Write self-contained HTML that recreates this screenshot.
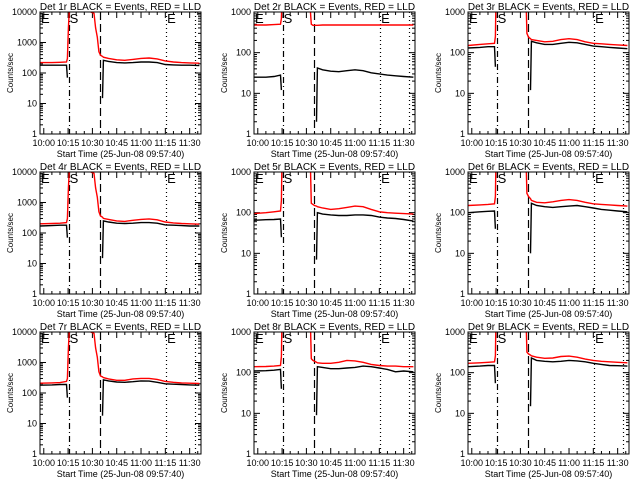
<!DOCTYPE html>
<html><head><meta charset="utf-8"><style>
html,body{margin:0;padding:0;background:#fff;}
svg{display:block;font-family:"Liberation Sans",sans-serif;}
</style></head><body>
<svg id="chart" width="640" height="480" viewBox="0 0 640 480"></svg>
<script>
const times=[-2.3,5,10,14,14.6,15.2,16,31,32,33,34,35,36.2,36.8,40,45,50,55,60,65,70,75,80,85,90,96];
const detNames=["1r","2r","3r","4r","5r","6r","7r","8r","9r"];
const decades=[4,3,3,4,3,3,4,3,3];
const N=null;
const black1=[180,180,180,180,70,N,N,N,N,N,N,N,15,260,240,220,215,220,230,230,220,190,185,180,180,175];
const red1=[220,220,225,230,300,3000,2e4,9000,3000,1500,500,380,350,330,300,270,260,280,300,310,290,250,230,220,215,210];
const black2=[25,25,26,28,12,N,N,N,N,N,N,N,2,42,38,35,34,36,38,36,32,30,28,27,26,25];
const red2=[480,480,490,500,700,5000,1e4,1e4,2000,500,470,470,470,470,480,480,480,480,480,480,480,480,480,480,480,480];
const black3=[130,135,140,140,45,N,N,N,N,N,N,N,12,190,175,160,160,170,180,175,160,145,140,135,130,125];
const red3=[150,160,165,170,250,1e4,1e4,1e4,1e4,1e4,300,240,220,210,200,185,190,210,220,210,185,170,165,160,155,150];
const black4=[170,175,180,180,70,N,N,N,N,N,N,N,15,250,230,210,205,210,220,220,210,185,180,175,170,170];
const red4=[200,205,210,220,300,3000,2e4,9000,3000,1500,500,360,330,300,280,250,240,260,280,290,270,230,215,205,200,195];
const black5=[65,67,68,70,25,N,N,N,N,N,N,N,7,100,92,88,85,85,88,88,85,78,74,72,68,62];
const red5=[95,100,105,110,200,1e4,1e4,1e4,1e4,170,160,150,145,140,130,120,125,135,145,140,120,105,100,97,95,92];
const black6=[100,105,108,110,40,N,N,N,N,N,N,N,10,170,150,140,135,140,145,150,140,130,120,115,110,105];
const red6=[150,155,160,165,250,1e4,1e4,1e4,1e4,1e4,300,250,220,200,180,175,185,200,210,200,180,165,160,155,150,145];
const black7=[180,185,190,190,70,N,N,N,N,N,N,N,18,270,250,230,225,235,250,245,225,200,195,190,185,180];
const red7=[210,215,220,240,300,3000,2e4,9000,3000,1500,500,360,340,320,290,260,260,290,300,300,280,240,225,215,210,205];
const black8=[110,112,115,120,40,N,N,N,N,N,N,N,9,140,135,125,125,130,135,145,140,130,120,105,110,105];
const red8=[140,142,145,150,250,1e4,1e4,1e4,1e4,220,200,190,180,175,170,170,180,200,195,180,160,150,145,145,140,140];
const black9=[140,145,150,150,55,N,N,N,N,N,N,N,15,230,200,190,185,190,200,195,185,170,160,150,148,145];
const red9=[170,175,180,185,260,1e4,1e4,1e4,1e4,1e4,320,290,270,260,240,225,230,250,255,240,215,200,190,185,180,175];
const blackSeries=[black1,black2,black3,black4,black5,black6,black7,black8,black9];
const redSeries=[red1,red2,red3,red4,red5,red6,red7,red8,red9];
const tickMinutes=[0,15,30,45,60,75,90];
const tickLabels=["10:00","10:15","10:30","10:45","11:00","11:15","11:30"];
const markerTimes=[15.3,34.5,75.5,93];

const NS="http://www.w3.org/2000/svg";
const svg=document.getElementById("chart");
const colLeft=[40,254,468], rowTop=[12,172,332], W=161, PH=122, T0=-2.33, T1=97;
function mk(tag,attrs,parent){const e=document.createElementNS(NS,tag);for(const k in attrs)e.setAttribute(k,attrs[k]);(parent||svg).appendChild(e);return e;}

for(let p=0;p<9;p++){
  const L=colLeft[p%3], T=rowTop[Math.floor(p/3)], dec=decades[p];
  const xs=t=>L+(t-T0)/(T1-T0)*W;
  const ys=v=>T+PH-Math.log10(Math.max(v,1e-3))/dec*PH;
  const g=mk("g",{});
  
  
  const cp=mk("clipPath",{id:"clip"+p},g);
  mk("rect",{x:L,y:T,width:W,height:PH},cp);
  const ti=mk("text",{x:L+W/2,y:T-2,"text-anchor":"middle","font-size":"10"},g);
  ti.textContent="Det "+detNames[p]+" BLACK = Events, RED = LLD";
  
  
  const yt=mk("text",{x:0,y:0,"text-anchor":"middle","font-size":"8","transform":"translate("+(L-27)+","+(T+PH/2)+") rotate(-90)"},g);
  yt.textContent="Counts/sec";
  
  
  const xt=mk("text",{x:L+W/2,y:T+PH+23,"text-anchor":"middle","font-size":"9"},g);
  xt.textContent="Start Time (25-Jun-08 09:57:40)";
  
  
  for(let d=0;d<=dec;d++){
    const y=ys(Math.pow(10,d));
    mk("line",{x1:L,x2:L+6,y1:y,y2:y,stroke:"#000","stroke-width":1},g);
    mk("line",{x1:L+W-6,x2:L+W,y1:y,y2:y,stroke:"#000","stroke-width":1},g);
    const tl=mk("text",{x:L-3,y:y+3,"text-anchor":"end","font-size":"9"},g);
    tl.textContent=String(Math.pow(10,d));
    
    
    if(d<dec){for(let m=2;m<=9;m++){const ym=ys(m*Math.pow(10,d));
      mk("line",{x1:L,x2:L+3,y1:ym,y2:ym,stroke:"#000","stroke-width":1},g);
      mk("line",{x1:L+W-3,x2:L+W,y1:ym,y2:ym,stroke:"#000","stroke-width":1},g);}}
  }
  tickMinutes.forEach((tm,i)=>{
    const x=xs(tm);
    mk("line",{x1:x,x2:x,y1:T+PH,y2:T+PH-6,stroke:"#000","stroke-width":1},g);
    mk("line",{x1:x,x2:x,y1:T,y2:T+6,stroke:"#000","stroke-width":1},g);
    const tl=mk("text",{x:x,y:T+PH+12,"text-anchor":"middle","font-size":"9"},g);
    tl.textContent=tickLabels[i];
    
    
  });
  for(let tm=0;tm<=95;tm+=5){if(tm%15===0)continue;const x=xs(tm);
    mk("line",{x1:x,x2:x,y1:T+PH,y2:T+PH-3,stroke:"#000","stroke-width":1},g);
    mk("line",{x1:x,x2:x,y1:T,y2:T+3,stroke:"#000","stroke-width":1},g);}
  const dashes=["6,3,1,3","8,4","1,3","1,3"];
  markerTimes.forEach((tm,i)=>{
    const x=Math.round(xs(tm))+0.5;
    const ml=mk("line",{x1:x,x2:x,y1:T,y2:T+PH,stroke:"#000","stroke-width":1.2,"stroke-dasharray":dashes[i]},g);
    
    
  });
  const lbls=[["E",xs(T0)+1],["S",xs(markerTimes[0])+1],["E",xs(markerTimes[2])+1]];
  lbls.forEach(l=>{const e=mk("text",{x:l[1],y:T+11,"font-size":"13"},g);e.textContent=l[0];
    
    });
  const lineOf=(arr,col,name)=>{
    let segs=[],cur=[];
    times.forEach((t,i)=>{
      if(arr[i]===null){if(cur.length)segs.push(cur);cur=[];}
      else cur.push(xs(t).toFixed(1)+","+ys(arr[i]).toFixed(1));
    });
    if(cur.length)segs.push(cur);
    segs.forEach(s=>{
      const pl=mk("polyline",{points:s.join(" "),fill:"none",stroke:col,"stroke-width":1.4,"clip-path":"url(#clip"+p+")"},g);
      
      
    });
  };
  lineOf(redSeries[p],"#ff0000","lld-series-red");
  lineOf(blackSeries[p],"#000000","events-series-black");
  const fr=mk("rect",{x:L,y:T,width:W,height:PH,fill:"none",stroke:"#000","stroke-width":1},g);
  
  
}
</script>
</body></html>
